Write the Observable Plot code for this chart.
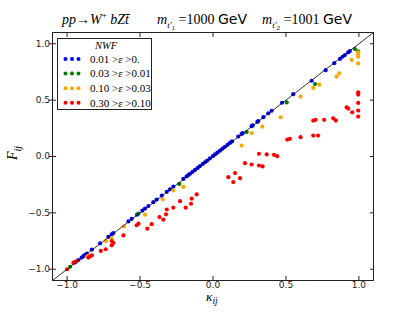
<!DOCTYPE html>
<html><head><meta charset="utf-8">
<script src="https://cdn.jsdelivr.net/npm/d3@7"></script>
<script src="https://cdn.jsdelivr.net/npm/@observablehq/plot@0.6"></script>
<style>
body{margin:0;background:#fff}
#chart{position:relative;width:415px;height:312px}
</style>
</head><body><div id="chart"></div>
<script>
// ---- data ----
const groupKeys = ["a", "b", "c", "d"];
const groupColors = ["#0000ff", "#008000", "#ffa500", "#ff0000"];
const groupLo = ["0.", "0.01", "0.03", "0.10"];
const groupHi = ["0.01", "0.03", "0.10", "0.30"];
const tickValues = [-1.0, -0.5, 0.0, 0.5, 1.0];
const axisDomain = [-1.1, 1.1];

const blueK = [-0.945,-0.922,-0.900,-0.888,-0.877,-0.865,-0.830,-0.774,-0.717,-0.694,-0.683,-0.580,-0.557,-0.520,-0.484,-0.466,-0.443,-0.409,-0.386,-0.351,-0.317,-0.295,-0.272,-0.203,-0.180,-0.169,-0.158,-0.140,-0.123,-0.105,-0.089,-0.070,-0.055,-0.040,-0.021,0.000,0.014,0.030,0.048,0.065,0.082,0.100,0.116,0.130,0.173,0.196,0.203,0.265,0.272,0.304,0.310,0.345,0.379,0.402,0.473,0.550,0.676,0.772,0.831,0.870,0.888,0.904,0.927,0.938];
const blueF = [-0.940,-0.918,-0.897,-0.884,-0.872,-0.861,-0.826,-0.770,-0.713,-0.690,-0.679,-0.576,-0.553,-0.516,-0.480,-0.462,-0.439,-0.405,-0.382,-0.347,-0.313,-0.291,-0.268,-0.199,-0.176,-0.165,-0.154,-0.136,-0.119,-0.101,-0.085,-0.066,-0.051,-0.036,-0.017,0.004,0.018,0.034,0.052,0.069,0.086,0.104,0.120,0.134,0.177,0.200,0.207,0.269,0.276,0.308,0.314,0.349,0.383,0.406,0.477,0.553,0.672,0.766,0.828,0.866,0.885,0.900,0.924,0.935];

const greenK = [-0.979,-0.511,-0.231,0.231,0.505,0.699,0.973,0.995];
const greenF = [-0.978,-0.507,-0.245,0.217,0.480,0.643,0.953,0.932];

const orangeK = [-0.865,-0.854,-0.733,-0.694,-0.610,-0.466,-0.345,-0.272,-0.203,0.196,0.265,0.338,0.464,0.600,0.687,0.728,0.847,0.865,0.950,0.995,0.995,0.995,0.995];
const orangeF = [-0.885,-0.876,-0.750,-0.725,-0.620,-0.516,-0.380,-0.300,-0.270,0.097,0.208,0.265,0.348,0.531,0.608,0.637,0.708,0.737,0.858,0.923,0.903,0.885,0.826];

const redK = [-1.000,-0.957,-0.945,-0.934,-0.854,-0.842,-0.830,-0.769,-0.735,-0.694,-0.683,-0.694,-0.614,-0.523,-0.511,-0.450,-0.420,-0.367,-0.340,-0.322,-0.317,-0.272,-0.226,-0.187,-0.151,-0.146,-0.112,0.105,0.139,0.151,0.185,0.219,0.265,0.315,0.315,0.340,0.368,0.418,0.440,0.509,0.527,0.600,0.687,0.720,0.687,0.703,0.762,0.824,0.842,0.916,0.927,0.954,0.995,0.995,0.995,0.995,0.995];
const redF = [-1.000,-0.944,-0.935,-0.927,-0.897,-0.885,-0.876,-0.838,-0.823,-0.788,-0.767,-0.750,-0.700,-0.610,-0.596,-0.640,-0.600,-0.537,-0.560,-0.513,-0.470,-0.454,-0.396,-0.454,-0.419,-0.374,-0.336,-0.183,-0.227,-0.147,-0.192,-0.059,-0.071,0.024,-0.080,-0.088,0.018,0.015,0.003,0.150,0.157,0.171,0.186,0.186,0.319,0.325,0.325,0.339,0.319,0.436,0.425,0.392,0.569,0.549,0.475,0.407,0.354];

// ---- build table ----
const series = [[blueK, blueF], [greenK, greenF], [orangeK, orangeF], [redK, redF]];
const data = series.flatMap(([ks, fs], i) => ks.map((k, j) => ({k, f: fs[j], g: groupKeys[i]})));
const fmt = d3.format(".1f");
const tickStyle = {fontSize: 9, fill: "#222", stroke: "#222", label: null};

const svg = Plot.plot({
  width: 415, height: 312,
  marginLeft: 52, marginRight: 42, marginTop: 32, marginBottom: 32,
  style: {background: "white", fontFamily: "DejaVu Sans"},
  x: {domain: axisDomain},
  y: {domain: axisDomain},
  color: {domain: groupKeys, range: groupColors},
  marks: [
    Plot.dot(data, {x: "k", y: "f", fill: "g", r: 2.1}),
    Plot.line(axisDomain, {x: d => d, y: d => d, stroke: "black", strokeWidth: 0.8}),
    Plot.frame({stroke: "#222", strokeWidth: 1}),
    Plot.axisX(tickValues, {anchor: "bottom", tickSize: -4, tickPadding: 5, tickFormat: fmt, ...tickStyle}),
    Plot.axisX(tickValues, {anchor: "top", tickSize: -4, tickFormat: fmt, ...tickStyle, fill: "none"}),
    Plot.axisY(tickValues, {anchor: "left", tickSize: -4, tickPadding: 6.5, tickFormat: fmt, ...tickStyle}),
    Plot.axisY(tickValues, {anchor: "left", tickSize: 3, tickFormat: fmt, ...tickStyle, fill: "none"}),
    Plot.axisY(tickValues, {anchor: "right", tickSize: -4, tickFormat: fmt, ...tickStyle, fill: "none"})
  ]
});
document.getElementById("chart").appendChild(svg);

// ---- texts: title, axis labels, legend ----
const S = d3.select(svg);
const serif = "Liberation Serif, DejaVu Serif, serif";
const sans = "DejaVu Sans, sans-serif";

function piece(x, y, parts, size = 14) {
  const t = S.append("text").attr("x", x).attr("y", y).attr("fill", "#000")
    .attr("text-anchor", "start").attr("font-family", serif).attr("font-size", size);
  for (const p of parts) {
    const ts = t.append("tspan").text(p.s);
    if (p.i) ts.attr("font-style", "italic");
    if (p.fs) ts.attr("font-size", p.fs);
    if (p.dy) ts.attr("dy", p.dy);
    if (p.ff) ts.attr("font-family", p.ff);
  }
  return t;
}
// title
piece(62, 24, [{s: "pp", i: 1}, {s: "→"}, {s: "W", i: 1}, {s: "+", fs: 9, dy: -6}, {s: " ", dy: 6}, {s: "bZ", i: 1}, {s: "t\u0304", i: 1}]);
piece(157, 24, [{s: "m", i: 1}, {s: "t′", i: 1, fs: 9, dy: 4}, {s: "1", fs: 7, dy: 2}, {s: " =1000 ", dy: -6}, {s: "GeV", ff: sans}]);
piece(262, 24, [{s: "m", i: 1}, {s: "t′", i: 1, fs: 9, dy: 4}, {s: "2", fs: 7, dy: 2}, {s: " =1001 ", dy: -6}, {s: "GeV", ff: sans}]);
// x label
piece(206, 300.5, [{s: "κ", i: 1}, {s: "ij", i: 1, fs: 9.5, dy: 3.5}], 13.5);
// y label
piece(0, 0, [{s: "F", i: 1}, {s: "ij", i: 1, fs: 10, dy: 4}])
  .attr("transform", "translate(17,160) rotate(-90)");

// legend
const L = S.append("g");
L.append("rect").attr("x", 57.5).attr("y", 38.5).attr("width", 94).attr("height", 71)
  .attr("fill", "white").attr("stroke", "#222").attr("stroke-width", 1);
L.append("text").attr("x", 106).attr("y", 49).attr("text-anchor", "middle")
  .attr("font-family", serif).attr("font-style", "italic").attr("font-size", 10.5).text("NWF");
groupKeys.forEach((g, i) => {
  const cy = 59 + i * 14.6;
  [65.5, 72, 78.5].forEach(cx => L.append("circle").attr("cx", cx).attr("cy", cy).attr("r", 2).attr("fill", groupColors[i]));
  const t = L.append("text").attr("x", 90).attr("y", cy + 3.8).attr("text-anchor", "start")
    .attr("font-family", serif).attr("font-size", 11);
  t.append("tspan").text(groupHi[i] + " >");
  t.append("tspan").attr("font-style", "italic").text("ε");
  t.append("tspan").text(" >" + groupLo[i]);
});
</script>
</body></html>
